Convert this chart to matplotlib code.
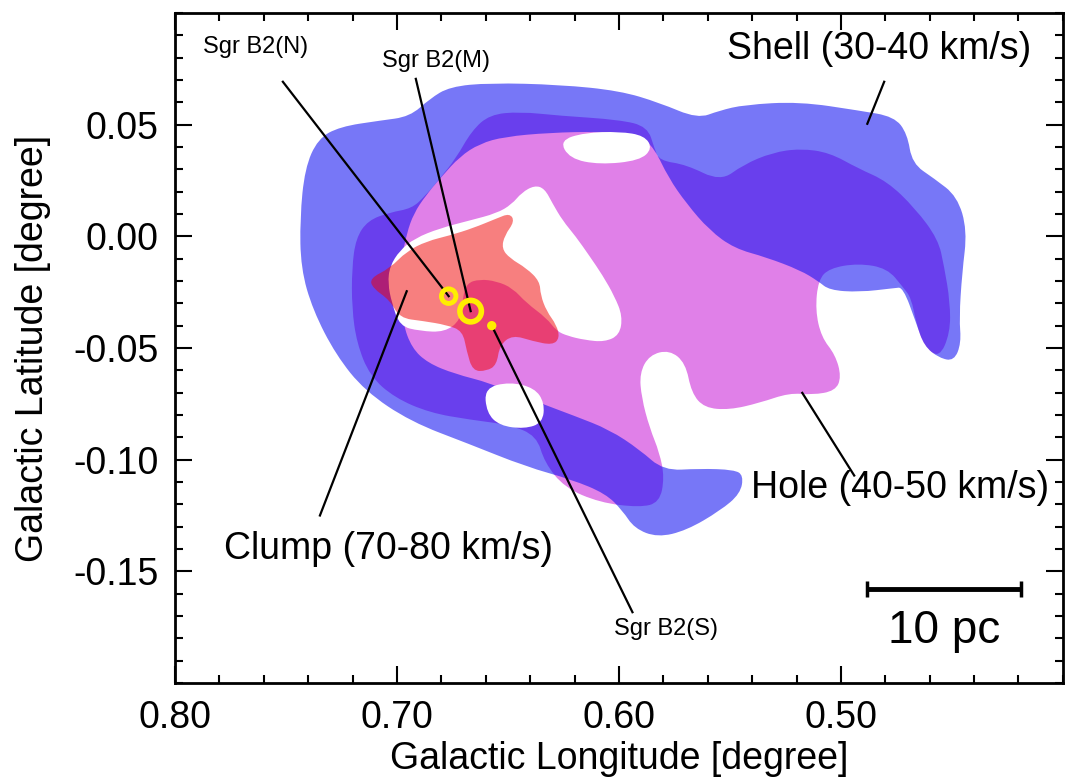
import numpy as np
import matplotlib
matplotlib.use("Agg")
import matplotlib.pyplot as plt
from matplotlib.path import Path
from matplotlib.patches import PathPatch
from matplotlib.ticker import MultipleLocator, FormatStrFormatter

plt.rcParams["font.family"] = ["Liberation Sans", "DejaVu Sans"]
plt.rcParams["axes.unicode_minus"] = False

# --- outlines in (galactic longitude, galactic latitude) [deg] ---
hole_lon = [0.6582, 0.6447, 0.6267, 0.5997, 0.5871, 0.5840, 0.5817, 0.5696, 0.5543, 0.5439,
            0.5309, 0.5183, 0.5052, 0.4922, 0.4791, 0.4665, 0.4562, 0.4535, 0.4508, 0.4508,
            0.4557, 0.4625, 0.4661, 0.4683, 0.4720, 0.4791, 0.4922, 0.5052, 0.5102, 0.5115,
            0.5088, 0.5025, 0.4998, 0.5025, 0.5129, 0.5232, 0.5367, 0.5502, 0.5615, 0.5673,
            0.5700, 0.5772, 0.5862, 0.5907, 0.5898, 0.5862, 0.5817, 0.5795, 0.5817, 0.5907,
            0.6087, 0.6245, 0.6335, 0.6371, 0.6492, 0.6672, 0.6852, 0.7010, 0.7122, 0.7181,
            0.7203, 0.7203, 0.7185, 0.7131, 0.7032, 0.6933, 0.6875, 0.6807, 0.6735, 0.6663]
hole_lat = [0.0545, 0.0558, 0.0540, 0.0522, 0.0491, 0.0393, 0.0339, 0.0321, 0.0246, 0.0321,
            0.0375, 0.0393, 0.0375, 0.0304, 0.0246, 0.0125, -0.0013, -0.0134, -0.0295, -0.0433,
            -0.0545, -0.0491, -0.0388, -0.0277, -0.0228, -0.0143, -0.0121, -0.0143, -0.0196, -0.0330,
            -0.0451, -0.0531, -0.0629, -0.0692, -0.0710, -0.0701, -0.0746, -0.0777, -0.0768, -0.0701,
            -0.0567, -0.0509, -0.0531, -0.0612, -0.0723, -0.0857, -0.0969, -0.1080, -0.1192, -0.1214,
            -0.1192, -0.1125, -0.1013, -0.0893, -0.0844, -0.0821, -0.0790, -0.0723, -0.0625, -0.0478,
            -0.0321, -0.0143, -0.0009, 0.0071, 0.0107, 0.0125, 0.0179, 0.0259, 0.0348, 0.0473]

shell_lon = [0.4490, 0.4458, 0.4467, 0.4454, 0.4431, 0.4476, 0.4580, 0.4679, 0.4701, 0.4760,
             0.4917, 0.5187, 0.5435, 0.5547, 0.5646, 0.5817, 0.5997, 0.6267, 0.6582, 0.6762,
             0.6852, 0.6942, 0.7077, 0.7257, 0.7356, 0.7415, 0.7437, 0.7433, 0.7379, 0.7275,
             0.7145, 0.6938, 0.6677, 0.6420, 0.6213, 0.6060, 0.5984, 0.5930, 0.5826, 0.5696,
             0.5543, 0.5453, 0.5439, 0.5480, 0.5637, 0.5799,
             0.5907, 0.6042, 0.6200, 0.6357, 0.6582, 0.6740, 0.6861, 0.6933, 0.6974, 0.6987,
             0.6978, 0.6956, 0.6924, 0.6870, 0.6798, 0.6717, 0.6627, 0.6515, 0.6312, 0.6087,
             0.5907, 0.5840, 0.5777, 0.5696, 0.5592, 0.5480, 0.5336, 0.5183, 0.5102, 0.5052,
             0.4917, 0.4760, 0.4720, 0.4661, 0.4625, 0.4557]
shell_lat = [-0.0558, -0.0478, -0.0366, -0.0165, 0.0027, 0.0179, 0.0259, 0.0326, 0.0460, 0.0536,
             0.0563, 0.0603, 0.0589, 0.0563, 0.0527, 0.0598, 0.0652, 0.0679, 0.0687, 0.0670,
             0.0616, 0.0536, 0.0518, 0.0491, 0.0437, 0.0304, 0.0080, -0.0143, -0.0330, -0.0531,
             -0.0692, -0.0830, -0.0929, -0.1031, -0.1089, -0.1152, -0.1228, -0.1308, -0.1348, -0.1317,
             -0.1228, -0.1152, -0.1071, -0.1045, -0.1040, -0.1049,
             -0.0955, -0.0866, -0.0804, -0.0746, -0.0656, -0.0616, -0.0567, -0.0500, -0.0388, -0.0232,
             -0.0098, 0.0013, 0.0103, 0.0183, 0.0268, 0.0357, 0.0415, 0.0446, 0.0464, 0.0469,
             0.0455, 0.0393, 0.0263, 0.0147, 0.0027, -0.0054, -0.0094, -0.0152, -0.0201, -0.0241,
             -0.0250, -0.0232, -0.0228, -0.0388, -0.0491, -0.0545]

# empty pockets inside the complex
cavity_lon = [0.7032, 0.6987, 0.6920, 0.6807, 0.6672, 0.6551, 0.6483, 0.6438, 0.6380, 0.6335,
              0.6299, 0.6254, 0.6195, 0.6132, 0.6074, 0.6020, 0.5984, 0.5997, 0.6065, 0.6155,
              0.6231, 0.6281, 0.6326, 0.6416, 0.6479, 0.6551, 0.6627, 0.6686, 0.6704, 0.6713,
              0.6785, 0.6897, 0.6987, 0.7023, 0.7041]
cavity_lat = [-0.0134, -0.0063, -0.0009, 0.0036, 0.0071, 0.0103, 0.0143, 0.0196, 0.0228, 0.0214,
              0.0147, 0.0071, 0.0000, -0.0089, -0.0174, -0.0268, -0.0357, -0.0442, -0.0473, -0.0464,
              -0.0446, -0.0424, -0.0366, -0.0299, -0.0232, -0.0201, -0.0192, -0.0210, -0.0277, -0.0375,
              -0.0429, -0.0424, -0.0402, -0.0299, -0.0210]
top_gap_lon = [0.6267, 0.6155, 0.5997, 0.5885, 0.5849, 0.5907, 0.6087, 0.6222]
top_gap_lat = [0.0429, 0.0464, 0.0469, 0.0451, 0.0393, 0.0339, 0.0321, 0.0348]
low_gap_lon = [0.6605, 0.6492, 0.6380, 0.6335, 0.6344, 0.6425, 0.6537, 0.6596]
low_gap_lat = [-0.0679, -0.0652, -0.0679, -0.0746, -0.0835, -0.0862, -0.0848, -0.0790]

clump_lon = [0.7122, 0.7032, 0.6956, 0.6866, 0.6762, 0.6659, 0.6551, 0.6492, 0.6470, 0.6515,
             0.6528, 0.6492, 0.6416, 0.6357, 0.6353, 0.6326, 0.6281, 0.6267, 0.6299, 0.6389,
             0.6479, 0.6537, 0.6551, 0.6596, 0.6659, 0.6686, 0.6704, 0.6776, 0.6884, 0.6987,
             0.7032, 0.7109]
clump_lat = [-0.0188, -0.0143, -0.0067, -0.0022, 0.0004, 0.0036, 0.0080, 0.0103, 0.0067, 0.0004,
             -0.0054, -0.0098, -0.0143, -0.0201, -0.0263, -0.0335, -0.0397, -0.0455, -0.0487, -0.0469,
             -0.0442, -0.0487, -0.0576, -0.0603, -0.0603, -0.0513, -0.0424, -0.0397, -0.0379, -0.0366,
             -0.0286, -0.0232]

# Sgr B2 cores
src_names = ["Sgr B2(N)", "Sgr B2(M)", "Sgr B2(S)"]
src_lon = [0.6767, 0.6668, 0.6573]
src_lat = [-0.0268, -0.0335, -0.0400]


def blob(lon, lat):
    # closed quadratic B-spline through the outline points
    pts = np.column_stack([lon, lat])
    mids = (pts + np.roll(pts, -1, axis=0)) / 2
    verts = [mids[-1]]
    codes = [Path.MOVETO]
    for p, m in zip(pts, mids):
        verts += [p, m]
        codes += [Path.CURVE3, Path.CURVE3]
    verts.append(mids[-1])
    codes.append(Path.CLOSEPOLY)
    return Path(verts, codes)


fig = plt.figure(figsize=(10.65, 7.82), dpi=100)
ax = fig.add_axes([0.1643, 0.1266, 0.8337, 0.8568])

ax.add_patch(PathPatch(blob(hole_lon, hole_lat), facecolor="#e080e8", edgecolor="none", zorder=1))
ax.add_patch(PathPatch(blob(shell_lon, shell_lat), facecolor=(13/255, 13/255, 242/255),
                       alpha=0.56, edgecolor="none", zorder=2))
for lo, la in [(cavity_lon, cavity_lat), (top_gap_lon, top_gap_lat), (low_gap_lon, low_gap_lat)]:
    ax.add_patch(PathPatch(blob(lo, la), facecolor="white", edgecolor="none", zorder=3))
ax.add_patch(PathPatch(blob(clump_lon, clump_lat), facecolor=(241/255, 0, 0),
                       alpha=0.5, edgecolor="none", zorder=4))

# leader lines
lw = 1.6
ax.plot([0.7514, src_lon[0]], [0.0692, src_lat[0]], color="k", lw=lw, zorder=5)
ax.plot([0.6915, src_lon[1]], [0.0705, src_lat[1]], color="k", lw=lw, zorder=5)
ax.plot([0.5939, src_lon[2]], [-0.1683, src_lat[2]], color="k", lw=lw, zorder=5)
ax.plot([0.4805, 0.4881], [0.0692, 0.0504], color="k", lw=lw, zorder=5)
ax.plot([0.4940, 0.5174], [-0.1071, -0.0701], color="k", lw=lw, zorder=5)
ax.plot([0.7347, 0.6956], [-0.1250, -0.0246], color="k", lw=lw, zorder=5)

# source markers
ax.scatter(src_lon[0], src_lat[0], s=110, facecolor="none", edgecolor="#ffee00", lw=3.5, zorder=6)
ax.scatter(src_lon[1], src_lat[1], s=240, facecolor="none", edgecolor="#ffee00", lw=4, zorder=6)
ax.scatter(src_lon[2], src_lat[2], s=45, facecolor="#ffee00", edgecolor="none", zorder=6)

ax.text(0.7635, 0.0848, src_names[0], fontsize=17, ha="center", va="center")
ax.text(0.6825, 0.0786, src_names[1], fontsize=17, ha="center", va="center")
ax.text(0.5786, -0.1759, src_names[2], fontsize=17, ha="center", va="center")
ax.text(0.4827, 0.0839, "Shell (30-40 km/s)", fontsize=27, ha="center", va="center")
ax.text(0.4733, -0.1125, "Hole (40-50 km/s)", fontsize=27, ha="center", va="center")
ax.text(0.7037, -0.1402, "Clump (70-80 km/s)", fontsize=27, ha="center", va="center")

# 10 pc scale bar
ax.errorbar([0.4535], [-0.158], xerr=[[0.0346], [0.0346]], color="k", lw=3.5,
            capsize=6, capthick=2.5, zorder=5)
ax.text(0.4535, -0.1765, "10 pc", fontsize=33, ha="center", va="center")

ax.set_xlim(0.80, 0.40)
ax.set_ylim(-0.20, 0.10)
ax.set_xticks([0.80, 0.70, 0.60, 0.50])
ax.set_yticks([-0.15, -0.10, -0.05, 0.00, 0.05])
ax.xaxis.set_major_formatter(FormatStrFormatter("%.2f"))
ax.yaxis.set_major_formatter(FormatStrFormatter("%.2f"))
ax.xaxis.set_minor_locator(MultipleLocator(0.02))
ax.yaxis.set_minor_locator(MultipleLocator(0.01))
ax.tick_params(which="both", direction="in", top=True, right=True, width=1.5, labelsize=27)
ax.tick_params(which="major", length=12, pad=12)
ax.tick_params(which="minor", length=6)
for s in ax.spines.values():
    s.set_linewidth(2)

ax.set_xlabel("Galactic Longitude [degree]", fontsize=27, labelpad=4)
ax.set_ylabel("Galactic Latitude [degree]", fontsize=27, labelpad=16)

fig.savefig("out.png", dpi=100)
